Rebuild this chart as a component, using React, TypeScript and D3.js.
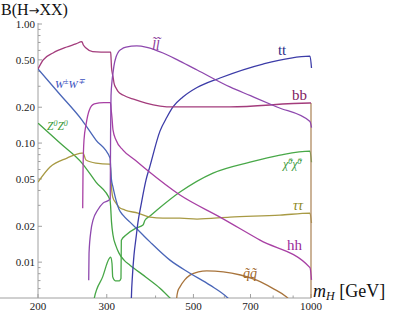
import React from "react";
import * as d3 from "d3";

const W = 398;
const H = 313;

const xTicksMajor = [200, 300, 500, 700, 1000];
const xTicksMinor = [400, 600, 800, 900];
const yTicksMajor = [0.01, 0.02, 0.05, 0.1, 0.2, 0.5, 1];
const yTickLabels = ["0.01", "0.02", "0.05", "0.10", "0.20", "0.50", "1.00"];
const yTicksMinor = [0.006, 0.007, 0.008, 0.009, 0.03, 0.04, 0.06, 0.07, 0.08, 0.09, 0.3, 0.4, 0.6, 0.7, 0.8, 0.9];

// [m_H, branching ratio]
const bbData = [
  [200, 0.419], [206, 0.498], [218.5, 0.571], [237, 0.641], [250, 0.68], [259, 0.71],
  [261.3, 0.666], [265.4, 0.629], [276, 0.585], [290, 0.58], [307, 0.58], [307.8, 0.5],
  [308.5, 0.43], [310, 0.385], [311.5, 0.355], [313.1, 0.319], [316.8, 0.29], [320.5, 0.272],
  [330.1, 0.253], [354.3, 0.232], [378, 0.217], [443, 0.201], [620, 0.201], [994, 0.217], [1000, 0.217],
];
const llData = [
  [269.7, 0.00706], [270.2, 0.0119], [273.4, 0.0186], [276.6, 0.0225],
  [284.4, 0.0274], [293.4, 0.0313], [304, 0.0332], [306.2, 0.034], [306.8, 0.12], [307.6, 0.25],
  [309.4, 0.33], [311.2, 0.388], [313.1, 0.45], [316.8, 0.528], [320.5, 0.575], [327, 0.615],
  [336, 0.64], [358, 0.655], [380, 0.637], [418, 0.571], [460, 0.49], [511, 0.411], [620, 0.296],
  [700, 0.25], [818, 0.201], [994, 0.152], [1003, 0.135],
];
const hhData = [
  [260.3, 0.0284], [260.8, 0.0593], [262.3, 0.106], [265.4, 0.142], [270.6, 0.189],
  [278.7, 0.213], [295, 0.219], [306.5, 0.219], [307.6, 0.197], [309.4, 0.162], [311.2, 0.129],
  [316.8, 0.106], [330.1, 0.0873], [354.3, 0.072], [380.3, 0.0593], [461.9, 0.0366], [584.8, 0.0239],
  [740.5, 0.0153], [994, 0.009], [1003, 0.0071],
];
const wwData = [
  [200, 0.419], [227.7, 0.256], [259.2, 0.156], [281.5, 0.106], [305.8, 0.0748], [307, 0.062],
  [308.2, 0.05], [311.2, 0.0427], [316.8, 0.0332], [322.4, 0.0278], [330.1, 0.0248], [344, 0.0217],
  [371.4, 0.0169], [387, 0.0148], [435.4, 0.0104], [489.9, 0.00808], [551.3, 0.00641],
  [609.4, 0.00508], [627.6, 0.00461],
];
const zzData = [
  [200, 0.147], [227.7, 0.1], [259.2, 0.0679], [281.5, 0.047], [305.8, 0.0332], [306.7, 0.0301],
  [308.5, 0.0217], [311.2, 0.0169], [316.8, 0.01363], [322.4, 0.0119], [332.1, 0.0104],
  [344, 0.00944], [378, 0.00748], [410.5, 0.00605], [440.7, 0.0048],
];
const chiData = [
  [278, 0.003], [278.7, 0.00498], [292.8, 0.00752], [304.5, 0.01074], [307, 0.011], [309.4, 0.00975],
  [310.7, 0.00752], [315.5, 0.00697], [323, 0.00697], [326.2, 0.00728], [326.9, 0.0153], [336, 0.0169],
  [356.4, 0.0193], [371.4, 0.0205], [375.8, 0.0225], [387, 0.0244], [403.4, 0.0274], [461.9, 0.0388],
  [561.1, 0.056], [698, 0.0692], [833, 0.0793], [994, 0.0857], [1003, 0.069],
];
const tauData = [
  [200, 0.047], [214.7, 0.0629], [237.3, 0.0748], [259.2, 0.0824], [260.8, 0.0824], [265.4, 0.072],
  [281.5, 0.0679], [304, 0.0666], [306.3, 0.0666], [307.6, 0.0489], [310.7, 0.0352], [316.8, 0.0313],
  [322.4, 0.029], [334, 0.0274], [360.6, 0.0258], [387, 0.0239], [417.9, 0.0234], [461.9, 0.0234],
  [510.7, 0.023], [620.3, 0.0239], [833, 0.0248], [994, 0.0258], [1003, 0.0213],
];
const ttData = [
  [346.5, 0.002], [346.7, 0.00478], [349.1, 0.00778], [352.2, 0.01145], [356.4, 0.0159],
  [360.6, 0.0217], [367.1, 0.0301], [378, 0.0489], [387, 0.0641], [410.5, 0.126], [427.9, 0.1654],
  [443.2, 0.201], [469.9, 0.2435], [510.7, 0.2927], [584.8, 0.352], [753.4, 0.461], [994, 0.538],
  [1003, 0.427],
];
const sqData = [
  [452, 0.002], [453, 0.00497], [456, 0.0057], [461.9, 0.0062], [475, 0.0071], [489.9, 0.00778],
  [515, 0.0083], [540.8, 0.00845], [596.4, 0.0083], [660, 0.0078], [726, 0.00706], [800, 0.006],
  [866, 0.0051], [900, 0.0045],
];
const sqJumpData = [
  [1000, 0.003], [1000, 0.217],
];

const series = [
  { name: "ZZ", data: zzData, color: "#44a444" },
  { name: "chi", data: chiData, color: "#48a848" },
  { name: "tau", data: tauData, color: "#a89a44" },
  { name: "sq", data: sqData, color: "#a8743c" },
  { name: "sqJump", data: sqJumpData, color: "#b08a60" },
  { name: "WW", data: wwData, color: "#4a66b8" },
  { name: "tt", data: ttData, color: "#3c3ca8" },
  { name: "hh", data: hhData, color: "#a840a4" },
  { name: "bb", data: bbData, color: "#a33c7c" },
  { name: "ll", data: llData, color: "#8e48ae" },
];

const FONT = "'Liberation Serif', 'Times New Roman', serif";

export default function App() {
  const x = d3.scaleLog().domain([200, 1000]).range([38, 311]);
  const y = d3.scaleLog().domain([0.005, 1]).range([298, 24]);
  const smooth = d3
    .line<number[]>()
    .x((d) => x(d[0]))
    .y((d) => y(d[1]))
    .curve(d3.curveMonotoneX);
  const straight = d3
    .line<number[]>()
    .x((d) => x(d[0]))
    .y((d) => y(d[1]));

  const axisColor = "#a0a0a0";
  const x0 = x(200);
  const y0 = y(0.005);

  const sup = (s: string, size = 8) => (
    <tspan dy={-4} fontSize={size}>{s}</tspan>
  );

  return (
    <svg
      width={W}
      height={H}
      style={{ position: "absolute", left: 0, top: 0, background: "#fff" }}
      fontFamily={FONT}
    >
      <defs>
        <clipPath id="plotclip">
          <rect x={x0} y={14} width={x(1000) - x0 + 3} height={y0 - 14} />
        </clipPath>
      </defs>

      {/* axes */}
      <line x1={0} x2={x(1000)} y1={y0} y2={y0} stroke={axisColor} strokeWidth={1} />
      <line x1={x0} x2={x0} y1={y(1) - 1} y2={y0} stroke={axisColor} strokeWidth={1} />
      {xTicksMajor.map((t) => (
        <g key={"xt" + t}>
          <line x1={x(t)} x2={x(t)} y1={y0} y2={y0 - 4} stroke={axisColor} />
          <text x={x(t)} y={y0 + 12} fontSize={11} textAnchor="middle" fill="#222">{t}</text>
        </g>
      ))}
      {xTicksMinor.map((t) => (
        <line key={"xm" + t} x1={x(t)} x2={x(t)} y1={y0} y2={y0 - 2.5} stroke={axisColor} />
      ))}
      {yTicksMajor.map((t, i) => (
        <g key={"yt" + t}>
          <line x1={x0} x2={x0 + 4} y1={y(t)} y2={y(t)} stroke={axisColor} />
          <text x={x0 - 3} y={y(t) + 4} fontSize={11} textAnchor="end" fill="#222">{yTickLabels[i]}</text>
        </g>
      ))}
      {yTicksMinor.map((t) => (
        <line key={"ym" + t} x1={x0} x2={x0 + 2.5} y1={y(t)} y2={y(t)} stroke={axisColor} />
      ))}

      {/* curves */}
      <g clipPath="url(#plotclip)">
        {series.map((s) => (
          <path
            key={s.name}
            d={(s.name === "sqJump" ? straight(s.data) : smooth(s.data)) || ""}
            fill="none"
            stroke={s.color}
            strokeWidth={1.3}
            strokeLinejoin="round"
          />
        ))}
      </g>

      {/* title & axis label */}
      <text x={1} y={15} fontSize={16} fill="#111">
        B(H<tspan fontFamily="'DejaVu Sans', sans-serif" fontSize={13}>→</tspan>XX)
      </text>
      <text x={313} y={297} fontSize={18} fill="#111">
        <tspan fontStyle="italic">m</tspan>
        <tspan fontStyle="italic" fontSize={12} dy={3}>H</tspan>
        <tspan dy={-3}> [GeV]</tspan>
      </text>

      {/* curve labels */}
      <text x={x(221)} y={y(0.29)} fontSize={11} fontStyle="italic" fill="#3a50c0">
        W{sup("±")}<tspan dy={4}>W</tspan>{sup("∓")}
      </text>
      <text x={x(210.9)} y={y(0.129)} fontSize={11.5} fontStyle="italic" fill="#3a9a3a">
        Z{sup("0")}<tspan dy={4}>Z</tspan>{sup("0")}
      </text>
      <text x={x(391.6)} y={y(0.605)} fontSize={14} fontStyle="italic" fill="#8a3a9a">l̃l̃</text>
      <text x={x(823)} y={y(0.549)} fontSize={15} fill="#2c2c88">tt</text>
      <text x={x(894)} y={y(0.23)} fontSize={15} fill="#802262">bb</text>
      <text x={x(848)} y={y(0.0617)} fontSize={12} fontStyle="italic" fill="#3a9a3a">
        χ̃{sup("0")}<tspan dy={4}>χ̃</tspan>{sup("0")}
      </text>
      <text x={x(899)} y={y(0.0274)} fontSize={14} fontStyle="italic" fill="#8a8620">ττ</text>
      <text x={x(868)} y={y(0.0126)} fontSize={15} fill="#9a2a9a">hh</text>
      <text x={x(670)} y={y(0.00733)} fontSize={14} fontStyle="italic" fill="#a0682c">q̃q̃</text>
    </svg>
  );
}
